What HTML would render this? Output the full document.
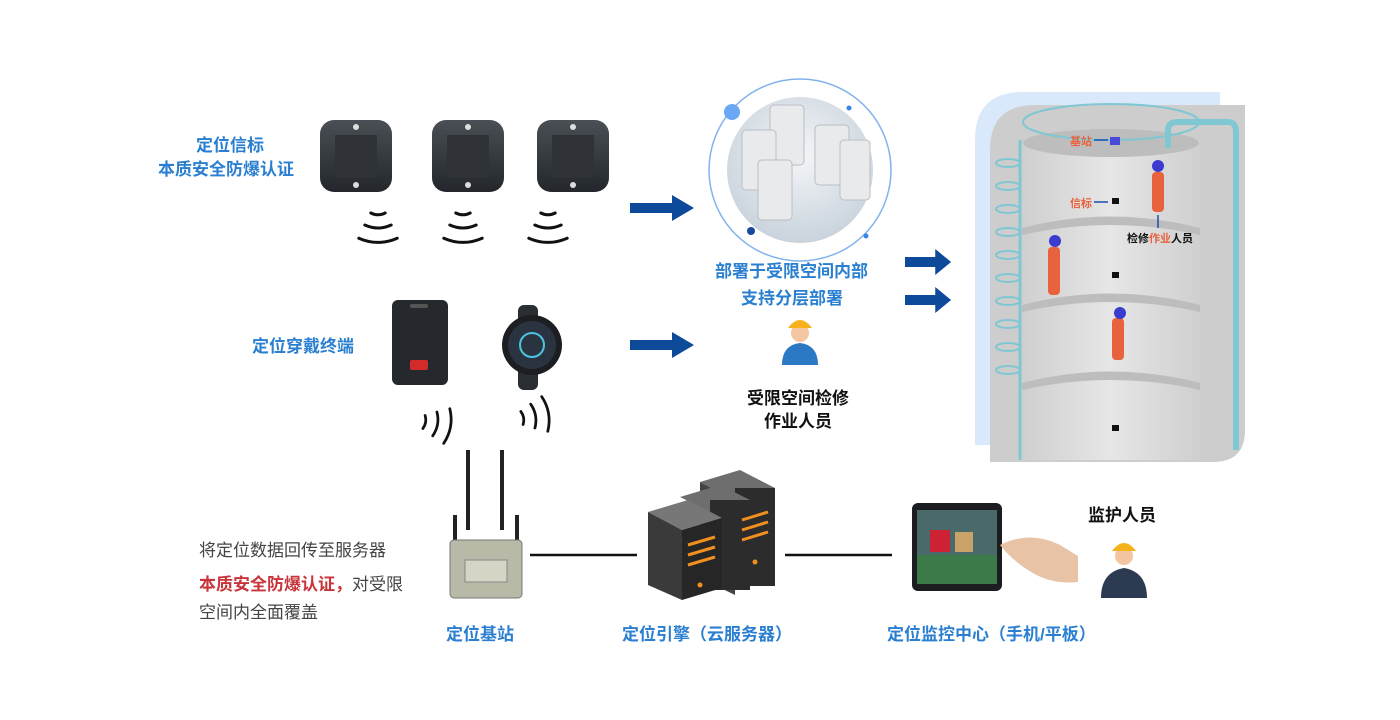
<!DOCTYPE html>
<html><head><meta charset="utf-8"><style>
body{margin:0;width:1400px;height:720px;background:#fff;position:relative;overflow:hidden;font-family:"Liberation Sans","Noto Sans CJK SC",sans-serif}
.t{position:absolute;white-space:nowrap;font-weight:bold}
.b{color:#2a7fd0;font-size:17px}
.k{color:#111;font-size:17px}
</style></head><body>
<svg width="1400" height="720" style="position:absolute;left:0;top:0">
<defs>
<linearGradient id="dk" x1="0" y1="0" x2="0" y2="1"><stop offset="0" stop-color="#4a4f55"/><stop offset="1" stop-color="#23272b"/></linearGradient>
<radialGradient id="cg" cx="0.5" cy="0.4" r="0.6"><stop offset="0" stop-color="#f4f6f8"/><stop offset="1" stop-color="#c9d3dc"/></radialGradient>
<linearGradient id="tk" x1="0" y1="0" x2="1" y2="0"><stop offset="0" stop-color="#cfcfcf"/><stop offset="0.5" stop-color="#e6e6e6"/><stop offset="1" stop-color="#cfcfcf"/></linearGradient>
<g id="wave" fill="none" stroke="#111" stroke-width="2.5" stroke-linecap="round">
<path d="M-6,0 Q0,3 6,0"/><path d="M-11,10 Q0,15 11,10"/><path d="M-16,21 Q0,28 16,21"/></g>
<g id="arr"><rect x="0" y="-5" width="44" height="10" fill="#0d4a9a"/><polygon points="42,-13 64,0 42,13" fill="#0d4a9a"/></g>
</defs>
<g><rect x="320" y="120" width="72" height="72" rx="14" fill="url(#dk)"/><rect x="335" y="135" width="42" height="42" fill="#2f3338"/><circle cx="356" cy="127" r="3" fill="#ddd"/><circle cx="356" cy="185" r="3" fill="#ddd"/></g>
<g><rect x="432" y="120" width="72" height="72" rx="14" fill="url(#dk)"/><rect x="447" y="135" width="42" height="42" fill="#2f3338"/><circle cx="468" cy="127" r="3" fill="#ddd"/><circle cx="468" cy="185" r="3" fill="#ddd"/></g>
<g><rect x="537" y="120" width="72" height="72" rx="14" fill="url(#dk)"/><rect x="552" y="135" width="42" height="42" fill="#2f3338"/><circle cx="573" cy="127" r="3" fill="#ddd"/><circle cx="573" cy="185" r="3" fill="#ddd"/></g>
<g transform="translate(378,213) scale(1.2)"><use href="#wave"/></g>
<g transform="translate(463,213) scale(1.2)"><use href="#wave"/></g>
<g transform="translate(548,213) scale(1.2)"><use href="#wave"/></g>
<rect x="392" y="300" width="56" height="85" rx="6" fill="#25282c"/><rect x="410" y="360" width="18" height="10" rx="2" fill="#d32a2a"/><rect x="410" y="304" width="18" height="4" rx="2" fill="#555"/>
<rect x="518" y="305" width="20" height="85" rx="6" fill="#2a2d31"/><circle cx="532" cy="345" r="30" fill="#1c1e21"/><circle cx="532" cy="345" r="24" fill="#2a3340"/><circle cx="532" cy="345" r="12" fill="none" stroke="#4cc3e0" stroke-width="2"/>
<g transform="translate(424,422) rotate(-80) scale(1.1)"><use href="#wave"/></g>
<g transform="translate(522,418) rotate(-100) scale(1.1)"><use href="#wave"/></g>
<use href="#arr" x="630" y="208"/><use href="#arr" x="630" y="345"/>
<g transform="translate(905,262) scale(0.72,1)"><use href="#arr"/></g>
<g transform="translate(905,300) scale(0.72,1)"><use href="#arr"/></g>
<circle cx="800" cy="170" r="91" fill="none" stroke="#7fb2ee" stroke-width="1.5"/>
<circle cx="800" cy="170" r="73" fill="url(#cg)"/>
<g fill="#e9eaec" stroke="#b9bec6"><rect x="770" y="105" width="34" height="60" rx="4"/><rect x="815" y="125" width="34" height="60" rx="4"/><rect x="742" y="130" width="34" height="60" rx="4"/><rect x="758" y="160" width="34" height="60" rx="4"/><rect x="840" y="140" width="30" height="60" rx="4"/></g>
<circle cx="732" cy="112" r="8" fill="#6aa7f5"/><circle cx="751" cy="231" r="4" fill="#174a9b"/><circle cx="849" cy="108" r="2.5" fill="#3a86e8"/><circle cx="866" cy="236" r="2.5" fill="#3a86e8"/>
<circle cx="800" cy="333" r="9" fill="#f3c5a0"/><path d="M788,328 Q800,312 812,328 Z" fill="#f5b21a"/><path d="M782,365 Q782,345 800,343 Q818,345 818,365 Z" fill="#2b78c4"/>
<path d="M975,445 V140 Q975,92 1023,92 H1220 V445 Z" fill="#d9e9fb"/>
<path d="M990,462 V150 Q990,105 1035,105 H1245 V430 Q1245,462 1213,462 Z" fill="#cdcdcd"/>
<rect x="1022" y="140" width="178" height="320" fill="url(#tk)"/>
<ellipse cx="1111" cy="143" rx="88" ry="14" fill="#bdbdbd"/>
<ellipse cx="1111" cy="122" rx="88" ry="18" fill="none" stroke="#7fc7d3" stroke-width="2"/>
<g fill="#bdbdbd"><path d="M1022,228 Q1111,205 1200,228 V235 Q1111,215 1022,235 Z"/><path d="M1022,305 Q1111,282 1200,305 V312 Q1111,292 1022,312 Z"/><path d="M1022,383 Q1111,360 1200,383 V390 Q1111,370 1022,390 Z"/></g>
<path d="M1020,140 V460" stroke="#7fc7d3" stroke-width="3"/>
<path d="M1168,148 V130 Q1168,122 1178,122 H1228 Q1236,122 1236,132 V450" fill="none" stroke="#7fc7d3" stroke-width="6"/>
<g fill="none" stroke="#7fc7d3" stroke-width="2"><ellipse cx="1008" cy="163" rx="12" ry="4"/><ellipse cx="1008" cy="186" rx="12" ry="4"/><ellipse cx="1008" cy="209" rx="12" ry="4"/><ellipse cx="1008" cy="232" rx="12" ry="4"/><ellipse cx="1008" cy="255" rx="12" ry="4"/><ellipse cx="1008" cy="278" rx="12" ry="4"/><ellipse cx="1008" cy="301" rx="12" ry="4"/><ellipse cx="1008" cy="324" rx="12" ry="4"/><ellipse cx="1008" cy="347" rx="12" ry="4"/><ellipse cx="1008" cy="370" rx="12" ry="4"/></g>
<rect x="1110" y="137" width="10" height="8" fill="#4a4ad8"/><line x1="1094" y1="140" x2="1108" y2="140" stroke="#1a4fae" stroke-width="1.5"/>
<line x1="1094" y1="202" x2="1108" y2="202" stroke="#1a4fae" stroke-width="1.5"/>
<g fill="#111"><rect x="1112" y="198" width="7" height="6"/><rect x="1112" y="272" width="7" height="6"/><rect x="1112" y="425" width="7" height="6"/></g>
<g fill="#e8623d"><rect x="1152" y="172" width="12" height="40" rx="4"/><rect x="1048" y="247" width="12" height="48" rx="4"/><rect x="1112" y="318" width="12" height="42" rx="4"/></g>
<g fill="#3b3bd0"><circle cx="1158" cy="166" r="6"/><circle cx="1055" cy="241" r="6"/><circle cx="1120" cy="313" r="6"/></g>
<line x1="1158" y1="215" x2="1158" y2="228" stroke="#1a4fae" stroke-width="1.5"/>
<line x1="468" y1="450" x2="468" y2="530" stroke="#222" stroke-width="4"/><line x1="502" y1="450" x2="502" y2="530" stroke="#222" stroke-width="4"/>
<line x1="455" y1="515" x2="455" y2="545" stroke="#222" stroke-width="4"/><line x1="517" y1="515" x2="517" y2="545" stroke="#222" stroke-width="4"/>
<rect x="450" y="540" width="72" height="58" rx="4" fill="#b9b9a8" stroke="#777"/><rect x="465" y="560" width="42" height="22" fill="#d6d4c4" stroke="#888"/>
<line x1="530" y1="555" x2="637" y2="555" stroke="#111" stroke-width="2.5"/>
<line x1="785" y1="555" x2="892" y2="555" stroke="#111" stroke-width="2.5"/>
<g><polygon points="700,482 740,470 775,488 735,500" fill="#6e6e6e"/><rect x="735" y="488" width="40" height="98" fill="#2c2c2c"/><polygon points="700,482 735,500 735,595 700,578" fill="#444"/></g>
<g><polygon points="680,497 720,485 750,500 710,512" fill="#6e6e6e"/><rect x="710" y="500" width="40" height="90" fill="#2c2c2c"/></g>
<g><polygon points="648,512 688,500 722,518 682,530" fill="#777"/><polygon points="648,512 682,530 682,600 648,585" fill="#3a3a3a"/><polygon points="682,530 722,518 722,588 682,600" fill="#262626"/>
<g stroke="#f0901e" stroke-width="3"><line x1="688" y1="545" x2="715" y2="537"/><line x1="688" y1="555" x2="715" y2="547"/><line x1="688" y1="565" x2="715" y2="557"/><line x1="742" y1="520" x2="768" y2="512"/><line x1="742" y1="530" x2="768" y2="522"/><line x1="742" y1="540" x2="768" y2="532"/></g>
<circle cx="700" cy="585" r="2.5" fill="#f0901e"/><circle cx="755" cy="562" r="2.5" fill="#f0901e"/></g>
<rect x="912" y="503" width="90" height="88" rx="6" fill="#1b1d20"/><rect x="917" y="510" width="80" height="74" fill="#4a6a6a"/><rect x="930" y="530" width="20" height="22" fill="#c23"/><rect x="955" y="532" width="18" height="20" fill="#c9a36a"/><rect x="917" y="555" width="80" height="29" fill="#3d7a4a"/>
<path d="M1000,545 Q1030,530 1060,545 L1078,556 L1078,582 Q1050,585 1028,570 Q1012,560 1000,545 Z" fill="#e8c3a6"/>
<circle cx="1124" cy="556" r="9" fill="#f3c5a0"/><path d="M1112,551 Q1124,535 1136,551 Z" fill="#f5b21a"/><path d="M1101,598 Q1101,572 1124,568 Q1147,572 1147,598 Z" fill="#2c3b52"/>
</svg>
<div class="t b" style="left:196px;top:131px">定位信标</div>
<div class="t b" style="left:158px;top:155px">本质安全防爆认证</div>
<div class="t b" style="left:252px;top:332px">定位穿戴终端</div>
<div class="t b" style="left:715px;top:257px">部署于受限空间内部</div>
<div class="t b" style="left:741px;top:284px">支持分层部署</div>
<div class="t k" style="left:747px;top:384px">受限空间检修</div>
<div class="t k" style="left:764px;top:407px">作业人员</div>
<div class="t" style="left:1070px;top:133px;font-size:11px;color:#e8623d">基站</div>
<div class="t" style="left:1070px;top:195px;font-size:11px;color:#e8623d">信标</div>
<div class="t" style="left:1127px;top:230px;font-size:11px;color:#111">检修<span style="color:#e8623d">作业</span>人员</div>
<div class="t k" style="left:1088px;top:501px">监护人员</div>
<div class="t" style="left:199px;top:536px;font-size:17px;color:#444;font-weight:normal">将定位数据回传至服务器</div>
<div class="t" style="left:199px;top:570px;font-size:17px;color:#444;font-weight:normal"><b style="color:#c8343a">本质安全防爆认证，</b>对受限</div>
<div class="t" style="left:199px;top:598px;font-size:17px;color:#444;font-weight:normal">空间内全面覆盖</div>
<div class="t b" style="left:446px;top:620px">定位基站</div>
<div class="t b" style="left:622px;top:620px">定位引擎（云服务器）</div>
<div class="t b" style="left:887px;top:620px">定位监控中心（手机/平板）</div>
</body></html>
